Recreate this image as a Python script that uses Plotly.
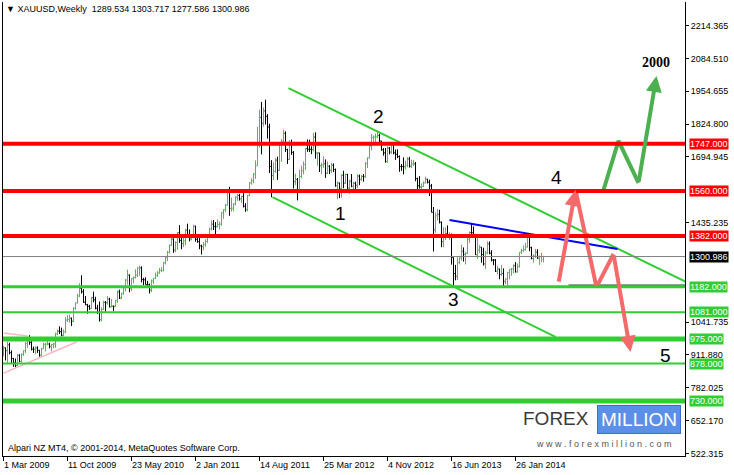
import plotly.graph_objects as go

# ---------------- data (weekly XAUUSD bars) ----------------
date_labels = ["1 Mar 2009", "11 Oct 2009", "23 May 2010", "2 Jan 2011", "14 Aug 2011",
               "25 Mar 2012", "4 Nov 2012", "16 Jun 2013", "26 Jan 2014"]
date_label_bars = [0, 32, 64, 96, 128, 160, 192, 224, 256]

opens = [
    # 2009
    940, 940, 929, 952, 921, 898, 881, 870, 911, 886, 915, 929, 958, 979, 961, 935, 934, 940, 930, 911, 937, 952,
    955, 955, 946, 953, 956, 995, 1006, 1004, 990, 1003, 1050, 1052, 1057, 1045, 1096, 1118, 1145, 1175, 1162, 1120, 1110, 1104,
    # 2010
    1096, 1138, 1130, 1097, 1081, 1051, 1092, 1120, 1118, 1133, 1102, 1105, 1104, 1126, 1161, 1137, 1156, 1178, 1208, 1228,
    1177, 1214, 1218, 1228, 1256, 1256, 1210, 1209, 1190, 1189, 1168, 1204, 1215, 1227, 1236, 1246, 1246, 1276, 1297, 1318,
    1345, 1370, 1327, 1357, 1395, 1365, 1352, 1363, 1405, 1386, 1370, 1380,
    # 2011
    1421, 1369, 1360, 1343, 1340, 1348, 1360, 1388, 1410, 1429, 1420, 1419, 1428, 1429, 1474, 1486, 1504, 1556, 1491, 1492,
    1509, 1536, 1542, 1529, 1539, 1500, 1486, 1542, 1592, 1601, 1628, 1660, 1743, 1851, 1828, 1877, 1855, 1813, 1657, 1621,
    1637, 1682, 1642, 1744, 1757, 1788, 1724, 1685, 1747, 1713, 1597, 1606,
    # 2012
    1566, 1617, 1640, 1665, 1728, 1725, 1725, 1724, 1773, 1710, 1711, 1660, 1663, 1668, 1630, 1658, 1642, 1662, 1645, 1581,
    1592, 1571, 1622, 1591, 1626, 1572, 1599, 1579, 1591, 1583, 1619, 1606, 1618, 1616, 1669, 1691, 1738, 1771, 1774, 1774,
    1780, 1758, 1723, 1711, 1677, 1730, 1714, 1751, 1711, 1705, 1696, 1657, 1657,
    # 2013
    1656, 1662, 1687, 1658, 1667, 1667, 1609, 1581, 1576, 1578, 1592, 1607, 1595, 1580, 1476, 1406, 1462, 1468, 1437, 1360,
    1387, 1392, 1383, 1388, 1297, 1234, 1223, 1277, 1295, 1322, 1310, 1313, 1370, 1396, 1395, 1387, 1308, 1327, 1338, 1309,
    1272, 1315, 1351, 1314, 1287, 1287, 1243, 1252, 1230, 1234, 1203, 1212,
    # 2014
    1238, 1250, 1252, 1265, 1240, 1262, 1318, 1324, 1328, 1339, 1378, 1336, 1293, 1303, 1318, 1294, 1300, 1289.534,
]
highs = [
    948, 941, 965, 960, 930, 900, 898, 915, 915, 918, 930, 962, 982, 990, 967, 945, 946, 946, 932, 940, 960, 960,
    970, 960, 956, 959, 1000, 1012, 1025, 1020, 1013, 1061, 1070, 1071, 1060, 1101, 1119, 1154, 1195, 1227, 1172, 1145, 1114, 1110,
    1140, 1162, 1142, 1110, 1123, 1100, 1126, 1125, 1145, 1138, 1133, 1107, 1130, 1167, 1170, 1157, 1180, 1212, 1249, 1230,
    1215, 1222, 1250, 1259, 1265, 1262, 1217, 1219, 1205, 1194, 1210, 1216, 1237, 1243, 1256, 1259, 1280, 1300, 1323, 1349,
    1388, 1373, 1361, 1398, 1425, 1374, 1378, 1410, 1431, 1408, 1390, 1424,
    1423, 1390, 1375, 1348, 1358, 1369, 1390, 1415, 1444, 1445, 1437, 1448, 1440, 1476, 1488, 1509, 1569, 1577, 1534, 1512,
    1539, 1549, 1549, 1541, 1561, 1512, 1545, 1595, 1610, 1631, 1681, 1814, 1881, 1912, 1890, 1921, 1864, 1826, 1682, 1673,
    1690, 1696, 1750, 1765, 1802, 1796, 1727, 1761, 1763, 1718, 1628, 1611,
    1645, 1660, 1677, 1730, 1764, 1763, 1737, 1790, 1792, 1713, 1711, 1672, 1697, 1685, 1677, 1662, 1671, 1669, 1649, 1597,
    1593, 1626, 1640, 1628, 1628, 1605, 1627, 1596, 1597, 1626, 1625, 1623, 1627, 1675, 1693, 1740, 1786, 1780, 1787, 1796,
    1786, 1758, 1730, 1730, 1737, 1734, 1754, 1754, 1724, 1725, 1701, 1667, 1693,
    1680, 1694, 1695, 1684, 1683, 1675, 1613, 1619, 1590, 1598, 1616, 1608, 1605, 1588, 1497, 1475, 1488, 1486, 1439, 1417,
    1416, 1424, 1397, 1392, 1297, 1268, 1298, 1298, 1348, 1337, 1320, 1378, 1400, 1434, 1420, 1391, 1375, 1346, 1338, 1336,
    1324, 1361, 1361, 1326, 1291, 1291, 1264, 1253, 1267, 1254, 1215, 1240,
    1251, 1256, 1270, 1279, 1274, 1318, 1332, 1345, 1355, 1383, 1392, 1340, 1310, 1331, 1330, 1305, 1315, 1303.717,
]
lows = [
    906, 890, 880, 914, 880, 865, 863, 868, 883, 882, 908, 920, 940, 952, 930, 920, 915, 920, 905, 906, 936, 926,
    950, 938, 926, 938, 940, 990, 995, 985, 985, 998, 1042, 1040, 1026, 1043, 1091, 1115, 1140, 1155, 1118, 1109, 1075, 1090,
    1094, 1120, 1092, 1074, 1044, 1045, 1089, 1083, 1111, 1100, 1100, 1086, 1102, 1118, 1133, 1132, 1150, 1163, 1190, 1160,
    1165, 1195, 1214, 1220, 1225, 1199, 1188, 1190, 1177, 1155, 1160, 1192, 1212, 1220, 1233, 1239, 1242, 1270, 1283, 1313,
    1343, 1316, 1318, 1328, 1355, 1330, 1339, 1345, 1380, 1361, 1365, 1375,
    1360, 1355, 1330, 1309, 1326, 1340, 1355, 1385, 1404, 1406, 1383, 1416, 1408, 1423, 1450, 1478, 1502, 1462, 1478, 1480,
    1503, 1521, 1522, 1513, 1495, 1478, 1480, 1540, 1585, 1591, 1608, 1660, 1732, 1705, 1815, 1823, 1767, 1631, 1535, 1603,
    1632, 1604, 1640, 1676, 1753, 1714, 1667, 1683, 1703, 1570, 1584, 1523,
    1563, 1610, 1626, 1644, 1715, 1714, 1706, 1717, 1688, 1660, 1635, 1627, 1652, 1612, 1627, 1627, 1631, 1635, 1577, 1527,
    1532, 1535, 1571, 1588, 1562, 1549, 1575, 1564, 1567, 1572, 1583, 1601, 1597, 1613, 1651, 1689, 1721, 1755, 1750, 1769,
    1751, 1720, 1700, 1672, 1672, 1705, 1707, 1705, 1683, 1690, 1636, 1640, 1626,
    1645, 1654, 1653, 1651, 1660, 1599, 1555, 1570, 1562, 1576, 1590, 1590, 1540, 1476, 1321, 1395, 1444, 1432, 1338, 1339,
    1366, 1381, 1366, 1269, 1180, 1207, 1208, 1270, 1285, 1281, 1270, 1310, 1355, 1385, 1379, 1307, 1292, 1315, 1277, 1265,
    1251, 1310, 1310, 1282, 1267, 1240, 1231, 1211, 1224, 1185, 1192, 1182,
    1211, 1225, 1235, 1238, 1238, 1257, 1311, 1320, 1325, 1336, 1322, 1290, 1277, 1296, 1292, 1268, 1278, 1277.586,
]
closes = [
    940, 929, 952, 921, 898, 881, 870, 911, 886, 915, 929, 958, 979, 961, 935, 934, 940, 930, 911, 937, 952, 955,
    955, 946, 953, 956, 995, 1006, 1004, 990, 1003, 1050, 1052, 1057, 1045, 1096, 1118, 1145, 1175, 1162, 1120, 1110, 1104, 1096,
    1138, 1130, 1097, 1081, 1051, 1092, 1120, 1118, 1133, 1102, 1105, 1104, 1126, 1161, 1137, 1156, 1178, 1208, 1228, 1177,
    1214, 1218, 1228, 1256, 1256, 1210, 1209, 1190, 1189, 1168, 1204, 1215, 1227, 1236, 1246, 1246, 1276, 1297, 1318, 1345,
    1370, 1327, 1357, 1395, 1365, 1352, 1363, 1405, 1386, 1370, 1380, 1421,
    1369, 1360, 1343, 1340, 1348, 1360, 1388, 1410, 1429, 1420, 1419, 1428, 1429, 1474, 1486, 1504, 1556, 1491, 1492, 1509,
    1536, 1542, 1529, 1539, 1500, 1486, 1542, 1592, 1601, 1628, 1660, 1743, 1851, 1828, 1877, 1855, 1813, 1657, 1621, 1637,
    1682, 1642, 1744, 1757, 1788, 1724, 1685, 1747, 1713, 1597, 1606, 1566,
    1617, 1640, 1665, 1728, 1725, 1725, 1724, 1773, 1710, 1711, 1660, 1663, 1668, 1630, 1658, 1642, 1662, 1645, 1581, 1592,
    1571, 1622, 1591, 1626, 1572, 1599, 1579, 1591, 1583, 1619, 1606, 1618, 1616, 1669, 1691, 1738, 1771, 1774, 1774, 1780,
    1758, 1723, 1711, 1677, 1730, 1714, 1751, 1711, 1705, 1696, 1657, 1657, 1656,
    1662, 1687, 1658, 1667, 1667, 1609, 1581, 1576, 1578, 1592, 1607, 1595, 1580, 1476, 1406, 1462, 1468, 1437, 1360, 1387,
    1392, 1383, 1388, 1297, 1234, 1223, 1277, 1295, 1322, 1310, 1313, 1370, 1396, 1395, 1387, 1308, 1327, 1338, 1309, 1272,
    1315, 1351, 1314, 1287, 1287, 1243, 1252, 1230, 1234, 1203, 1212, 1238,
    1250, 1252, 1265, 1240, 1262, 1318, 1324, 1328, 1339, 1378, 1336, 1293, 1303, 1318, 1294, 1300, 1302, 1300.986,
]

y_tick_labels = ["522.315", "652.170", "782.025", "911.880", "1041.735", "1435.235",
                 "1694.945", "1824.800", "1954.655", "2084.510", "2214.365"]

red_levels = [1747.0, 1560.0, 1382.0]
green_levels = [1182.0, 1081.0, 975.0, 878.0, 730.0]
green_widths = [3, 2, 5, 2, 5]
last_price = 1300.986

# trend lines: (bar index, price) end points
upper_channel = ([142.5, 345.0], [1967.0, 1186.0])
lower_channel = ([134.5, 276.0], [1536.0, 983.0])
blue_line = ([223.0, 307.0], [1445.0, 1331.0])
black_level = ([282.5, 345.0], [1188.0, 1188.0])
pink_upper = ([0.0, 12.0], [999.0, 987.0])
pink_lower = ([0.0, 36.5], [840.0, 963.0])

red_path_x = [277.5, 286.0, 296.5, 305.0, 313.5]
red_path_y = [1196.0, 1564.0, 1180.0, 1311.0, 924.0]
green_path_x = [300.0, 307.5, 317.5, 326.5]
green_path_y = [1564.0, 1758.0, 1592.0, 2015.0]

wave_labels = ["1", "2", "3", "4", "5"]
wave_x = [168.5, 187.5, 225.0, 276.5, 331.0]
wave_y = [1473.0, 1856.0, 1133.0, 1615.0, 908.0]

# ---------------- figure ----------------
FONT = "Liberation Sans, Arial, sans-serif"
bars = list(range(len(closes)))

fig = go.Figure()
fig.add_trace(go.Ohlc(
    x=bars, open=opens, high=highs, low=lows, close=closes,
    increasing=dict(line=dict(color="#32cd32", width=1)),
    decreasing=dict(line=dict(color="#000000", width=1)),
    tickwidth=0.5, hoverinfo="skip",
))


def add_line(pts, color, width, dash=None):
    fig.add_trace(go.Scatter(x=pts[0], y=pts[1], mode="lines",
                             line=dict(color=color, width=width, dash=dash),
                             hoverinfo="skip"))


add_line(pink_upper, "#ffb6c1", 1.5)
add_line(pink_lower, "#ffb6c1", 1.5)

shapes = []
shapes.append(dict(type="line", xref="paper", x0=0, x1=1, yref="y", y0=last_price, y1=last_price,
                   line=dict(color="#808080", width=1)))
for lv in red_levels:
    shapes.append(dict(type="line", xref="paper", x0=0, x1=1, yref="y", y0=lv, y1=lv,
                       line=dict(color="#ff0000", width=4)))
for lv, w in zip(green_levels, green_widths):
    shapes.append(dict(type="line", xref="paper", x0=0, x1=1, yref="y", y0=lv, y1=lv,
                       line=dict(color="#32cd32", width=w)))

add_line(upper_channel, "#32cd32", 2)
add_line(lower_channel, "#32cd32", 2)
add_line(blue_line, "#0000ff", 2)
add_line(black_level, "#000000", 1)

# zig-zag scenario arrows
RED_ARROW = "#f46a6a"
GREEN_ARROW = "#4caf50"
add_line((red_path_x[1:4], red_path_y[1:4]), RED_ARROW, 4)
add_line((green_path_x[:3], green_path_y[:3]), GREEN_ARROW, 4)

annotations = []
for (x0, y0, x1, y1, col) in [
    (red_path_x[0], red_path_y[0], red_path_x[1], red_path_y[1], RED_ARROW),
    (red_path_x[3], red_path_y[3], red_path_x[4], red_path_y[4], RED_ARROW),
    (green_path_x[2], green_path_y[2], green_path_x[3], green_path_y[3], GREEN_ARROW),
]:
    annotations.append(dict(x=x1, y=y1, ax=x0, ay=y0, xref="x", yref="y", axref="x", ayref="y",
                            showarrow=True, arrowhead=2, arrowsize=0.8, arrowwidth=4,
                            arrowcolor=col, text=""))

for t, x, y in zip(wave_labels, wave_x, wave_y):
    annotations.append(dict(x=x, y=y, xref="x", yref="y", text=t, showarrow=False,
                            font=dict(family=FONT, size=19, color="#000000")))
annotations.append(dict(x=326.0, y=2070.0, xref="x", yref="y", text="<b>2000</b>", showarrow=False,
                        font=dict(family="Liberation Serif, Times New Roman, serif", size=14, color="#000000")))

# price labels on the right scale
for lv, col in [(v, "#ff0000") for v in red_levels] + [(last_price, "#000000")] + \
        [(v, "#32cd32") for v in green_levels]:
    annotations.append(dict(x=1, xref="paper", y=lv, yref="y", xanchor="left", yanchor="middle",
                            xshift=4, text="%.3f" % lv, showarrow=False, bgcolor=col,
                            borderpad=0, font=dict(family=FONT, size=9, color="#ffffff")))

# date labels (MT4 style: left aligned at the tick)
for lab, b in zip(date_labels, date_label_bars):
    annotations.append(dict(x=b, xref="x", y=0, yref="paper", yanchor="top", xanchor="left",
                            xshift=-2, yshift=-2, text=lab, showarrow=False,
                            font=dict(family=FONT, size=9, color="#000000")))

# header and footer texts
annotations.append(dict(x=0, xref="paper", y=1, yref="paper", xanchor="left", yanchor="top",
                        xshift=1, yshift=0, text="▼ XAUUSD,Weekly  1289.534 1303.717 1277.586 1300.986",
                        showarrow=False, font=dict(family=FONT, size=9, color="#000000")))
annotations.append(dict(x=0, xref="paper", y=0, yref="paper", xanchor="left", yanchor="bottom",
                        xshift=3, yshift=1, text="Alpari NZ MT4, © 2001-2014, MetaQuotes Software Corp.",
                        showarrow=False, font=dict(family=FONT, size=9, color="#000000")))

# watermark logo
annotations.append(dict(x=0.862, xref="paper", y=0.083, yref="paper", xanchor="right", yanchor="middle",
                        text="FOREX", showarrow=False,
                        font=dict(family="Liberation Sans Narrow, Liberation Sans, sans-serif", size=19, color="#3a3a3a")))
annotations.append(dict(x=0.871, xref="paper", y=0.080, yref="paper", xanchor="left", yanchor="middle",
                        text="MILLION", showarrow=False, bgcolor="#5b8fe8", bordercolor="#3b6fd0", borderpad=3,
                        font=dict(family="Liberation Sans Narrow, Liberation Sans, sans-serif", size=19, color="#ffffff")))
annotations.append(dict(x=0.881, xref="paper", y=0.026, yref="paper", xanchor="center", yanchor="middle",
                        text="w w w . f o r e x m i l l i o n . c o m", showarrow=False,
                        font=dict(family=FONT, size=9, color="#555555")))

fig.update_layout(
    width=734, height=475,
    margin=dict(l=3, r=49, t=2, b=19, autoexpand=False),
    paper_bgcolor="#ffffff", plot_bgcolor="#ffffff",
    showlegend=False,
    font=dict(family=FONT, size=9, color="#000000"),
    shapes=shapes, annotations=annotations,
    xaxis=dict(range=[-0.25, 340.75], showgrid=False, zeroline=False, showline=True,
               linecolor="#000000", linewidth=1, ticks="outside", ticklen=4, tickcolor="#000000",
               tickvals=date_label_bars, showticklabels=False, rangeslider=dict(visible=False),
               fixedrange=True, automargin=False),
    yaxis=dict(range=[512.4, 2307.3], side="right", showgrid=False, zeroline=False,
               showline=True, mirror=True, linecolor="#000000", linewidth=1,
               ticks="outside", ticklen=3, tickcolor="#000000",
               tickvals=[float(v) for v in y_tick_labels], ticktext=y_tick_labels,
               tickfont=dict(family=FONT, size=9, color="#000000"), fixedrange=True,
               automargin=False),
)

fig.write_html("out.html", post_script="document.body.style.margin='0';document.body.style.padding='0';",
               config={"displayModeBar": False})
